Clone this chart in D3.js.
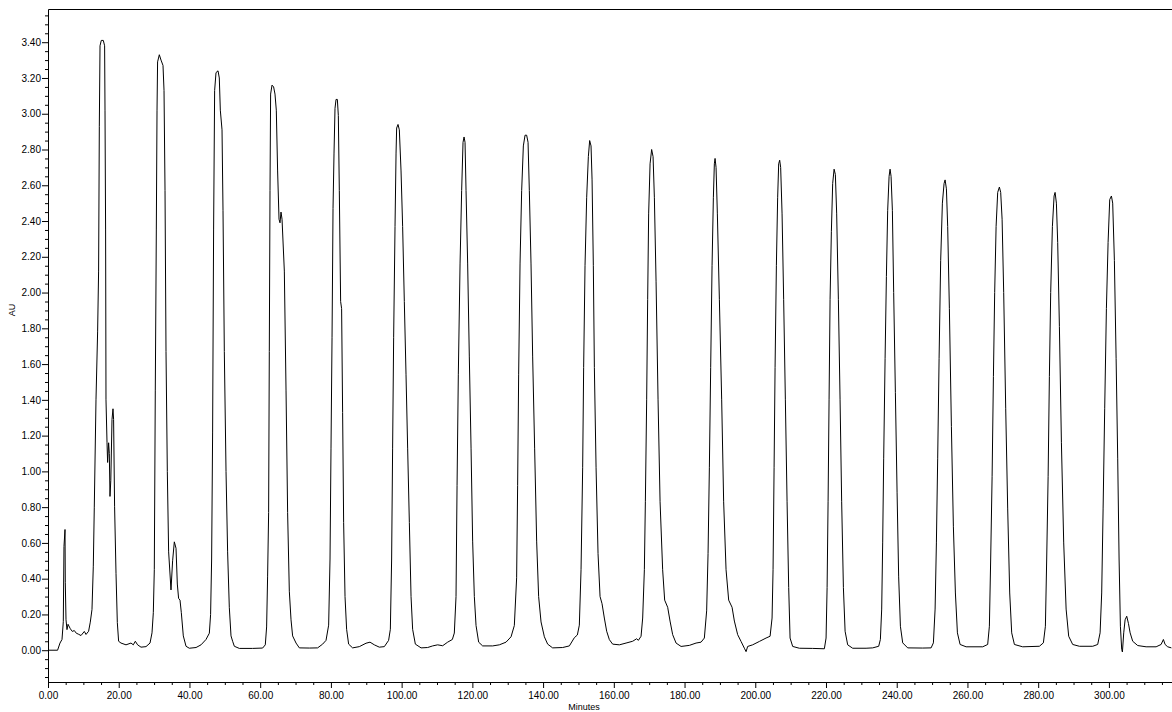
<!DOCTYPE html>
<html>
<head>
<meta charset="utf-8">
<script src="https://cdn.jsdelivr.net/npm/d3@7"></script>
<style>
    html, body { margin: 0; padding: 0; background: #fff; }
    svg { display: block; font-family: "Liberation Sans", Arial, sans-serif; }
</style>
</head>
<body>
<svg id="chart" width="1172" height="712"></svg>
<script>
// --- Data: [minutes, AU] ---

const traceEarly = [
    [0.00,0.000],[2.71,0.000],[3.39,0.040],[3.96,0.060],[4.33,0.160],[4.52,0.580],[4.81,0.675],[4.89,0.380],
    [5.09,0.170],[5.37,0.115],[5.66,0.145],[6.31,0.120],[6.87,0.105],[7.44,0.110],[8.00,0.095],[8.57,0.090],
    [9.33,0.082],[10.27,0.105],[10.75,0.088],[11.48,0.106],[11.96,0.157],[12.44,0.228],[12.81,0.470],[13.09,0.800],
    [13.57,1.400],[14.03,1.780],[14.31,2.120],[14.51,2.930],[14.71,3.380],[15.07,3.410],[15.64,3.410],[16.01,3.380],
    [16.12,3.020],[16.29,2.350],[16.40,1.400],[16.69,1.160],[16.86,1.050],[17.14,1.160],[17.34,1.100],[17.53,0.860],
    [17.76,0.950],[18.10,1.290],[18.38,1.350],[18.55,1.290],[18.83,0.805],[19.23,0.430],[19.60,0.155],[19.97,0.050],
    [20.64,0.040],[22.06,0.030],[23.47,0.040],[24.12,0.030],[24.69,0.050],[25.34,0.030],[26.30,0.017],[27.71,0.020],
    [28.85,0.040],[29.41,0.097],[29.78,0.210],[30.06,0.450],[30.34,1.450],[30.63,2.350],[30.83,3.020],[30.99,3.290],
    [31.48,3.330],[31.96,3.300],[32.52,3.270],[32.81,3.130],[33.09,2.570],[33.37,1.670],[33.74,1.000],[34.11,0.550],
    [34.78,0.337],[35.24,0.500],[35.72,0.606],[36.20,0.570],[36.57,0.370],[36.93,0.290],[37.33,0.280],[37.70,0.210],
    [38.26,0.080],[39.03,0.022],[39.96,0.011],[41.86,0.015],[43.27,0.030],[44.68,0.060],[45.62,0.095],[45.98,0.200],
    [46.27,0.510],[46.55,1.220],[46.83,2.350],[47.12,3.130],[47.51,3.230],[48.08,3.240],[48.44,3.200],[48.73,3.020],
    [49.21,2.910],[49.49,2.460],[49.86,1.670],[50.34,1.000],[50.79,0.550],[51.27,0.240],[51.75,0.080],[52.21,0.050],
    [52.69,0.022],[54.10,0.010],[57.86,0.010],[60.69,0.012],[61.45,0.030],[61.82,0.130],[62.10,0.410],[62.39,0.770],
    [62.58,1.670],[62.78,2.570],[62.95,3.110],[63.35,3.160],[63.80,3.150],[64.19,3.110],[64.56,3.020],[64.93,2.680],
    [65.33,2.410],[65.61,2.390],[65.89,2.450],[66.18,2.410],[66.83,2.120],[67.31,1.450],[67.76,0.770],[68.24,0.330],
    [68.72,0.170],[69.17,0.080],[70.14,0.040],[71.07,0.013],[73.90,0.012],[76.24,0.013]
];

const traceMid = [
    [77.66,0.034],[78.62,0.055],[79.36,0.140],[79.75,0.510],[80.03,1.130],[80.32,1.750],[80.60,2.470],[80.88,2.780],
    [81.16,3.030],[81.45,3.080],[81.82,3.080],[82.10,2.990],[82.38,2.570],[82.75,1.950],[83.03,1.910],[83.31,1.330],
    [83.60,0.715],[83.99,0.300],[84.44,0.117],[85.01,0.034],[86.14,0.013],[88.04,0.020],[89.93,0.039],[91.06,0.045],
    [92.28,0.030],[93.69,0.017],[95.11,0.020],[96.32,0.055],[96.81,0.117],[97.17,0.510],[97.45,1.130],[97.74,1.750],
    [98.13,2.370],[98.42,2.780],[98.59,2.920],[98.98,2.940],[99.35,2.910],[99.83,2.680],[100.28,2.370],[100.76,1.950],
    [101.24,1.540],[101.70,1.130],[102.18,0.715],[102.66,0.300],[103.11,0.117],[103.88,0.034],[105.49,0.013],[107.35,0.015],
    [108.77,0.024],[110.18,0.030],[111.60,0.025],[113.01,0.045],[114.34,0.060],[114.90,0.096],[115.38,0.300],[115.67,0.920],
    [116.03,1.540],[116.52,2.160],[116.97,2.570],[117.36,2.840],[117.65,2.870],[117.93,2.840],[118.21,2.570],[118.67,2.160],
    [119.14,1.640],[119.63,1.130],[120.08,0.610],[120.56,0.300],[121.04,0.138],[121.78,0.045],[122.91,0.024],[125.74,0.024],
    [127.63,0.030],[129.52,0.045],[130.94,0.075],[131.87,0.138],[132.52,0.405],[132.80,0.920],[133.09,1.540],[133.48,2.160],
    [133.94,2.570],[134.42,2.820],[134.90,2.880],[135.35,2.880],[135.75,2.840],[136.11,2.570],[136.59,2.160],[137.05,1.640],
    [137.61,1.130],[138.18,0.610],[138.74,0.300],[139.42,0.158],[140.36,0.075],[141.29,0.034],[142.70,0.013],[145.53,0.015],
    [147.43,0.024],[148.84,0.070],[149.69,0.085],[150.25,0.140],[150.73,0.450],[151.19,1.020],[151.47,1.580],[151.86,2.150],
    [152.32,2.530],[152.80,2.760],[153.17,2.850],[153.56,2.820],[153.85,2.630],[154.21,2.150],[154.50,1.580],[154.98,1.020],
    [155.54,0.540],[156.11,0.300],[156.67,0.260],[157.32,0.180],[157.98,0.106],[158.74,0.059],[159.67,0.034],[161.57,0.030],
    [163.46,0.040],[165.33,0.050],[166.46,0.064],[166.94,0.055],[167.70,0.078],[168.16,0.180],[168.64,0.450],[168.92,0.830],
    [169.29,1.400],[169.57,1.960],[169.85,2.440],[170.25,2.720],[170.70,2.800],[171.10,2.760],[171.47,2.530],[171.95,2.060],
    [172.51,1.400],[173.08,0.830],[173.81,0.450],[174.38,0.280],[175.23,0.240],[175.90,0.163],[176.64,0.087],[177.60,0.040],
    [179.02,0.021],[181.36,0.027],[183.26,0.040],[184.67,0.045],[185.60,0.068],[186.25,0.220],[186.65,0.540],[187.02,1.020],
    [187.39,1.580],[187.78,2.150],[188.15,2.530],[188.43,2.720],[188.63,2.750],[188.91,2.700],[189.28,2.440],[189.85,1.960],
    [190.50,1.400],[191.06,0.830],[191.74,0.450],[192.48,0.280],[193.44,0.240],[194.09,0.163],[195.02,0.087],[195.98,0.049],
    [196.92,0.011],[197.40,-0.008],[197.85,0.021],[199.26,0.030]
];

const traceLate = [
    [201.16,0.049],[203.05,0.068],[204.19,0.078],[204.75,0.180],[205.03,0.450],[205.32,1.020],[205.60,1.580],[205.97,2.150],
    [206.33,2.530],[206.62,2.720],[206.90,2.740],[207.18,2.700],[207.58,2.440],[208.03,1.960],[208.51,1.400],[208.99,0.830],
    [209.45,0.350],[209.84,0.068],[210.58,0.021],[212.47,0.011],[216.23,0.010],[219.54,0.008],[220.02,0.068],[220.31,0.350],
    [220.59,0.830],[220.87,1.400],[221.15,1.960],[221.52,2.340],[221.89,2.610],[222.29,2.690],[222.65,2.660],[223.02,2.440],
    [223.50,1.960],[223.98,1.400],[224.43,0.830],[224.92,0.350],[225.40,0.106],[226.13,0.030],[227.55,0.011],[231.33,0.011],
    [233.20,0.013],[234.90,0.022],[235.38,0.060],[235.75,0.230],[236.03,0.600],[236.31,1.070],[236.71,1.630],[237.08,2.090],
    [237.44,2.460],[237.84,2.650],[238.12,2.690],[238.40,2.650],[238.77,2.460],[239.14,2.000],[239.62,1.440],[240.10,0.880],
    [240.55,0.410],[241.04,0.134],[241.69,0.041],[243.10,0.013],[247.34,0.012],[249.72,0.013],[250.37,0.041],[250.85,0.230],
    [251.22,0.600],[251.58,1.070],[251.98,1.630],[252.43,2.180],[252.91,2.500],[253.39,2.610],[253.68,2.630],[254.05,2.580],
    [254.41,2.370],[254.89,1.910],[255.46,1.250],[256.02,0.690],[256.59,0.320],[257.16,0.097],[257.92,0.032],[259.62,0.019],
    [264.31,0.019],[265.72,0.032],[266.20,0.134],[266.57,0.510],[266.97,0.970],[267.34,1.530],[267.70,2.000],[268.10,2.370],
    [268.55,2.560],[269.03,2.590],[269.40,2.560],[269.80,2.410],[270.25,2.000],[270.82,1.350],[271.38,0.790],[271.95,0.320],
    [272.51,0.097],[273.28,0.032],[275.62,0.019],[280.34,0.022],[281.47,0.041],[282.04,0.134],[282.41,0.510],[282.81,0.970],
    [283.17,1.530],[283.54,2.000],[284.02,2.370],[284.50,2.540],[284.78,2.560],[285.15,2.500],[285.52,2.280],[286.00,1.810],
    [286.57,1.160],[287.22,0.600],[287.90,0.230],[288.63,0.078],[289.76,0.032],[291.66,0.022],[295.42,0.022],[296.83,0.032],
    [297.51,0.097],[297.96,0.320],[298.36,0.790],[298.81,1.350],[299.29,1.910],[299.77,2.280],[300.23,2.520],[300.71,2.540],
    [301.07,2.500],[301.55,2.180],[302.04,1.630],[302.49,1.070],[302.88,0.510],[303.25,0.134],[303.62,0.004],[303.82,-0.010],
    [304.19,0.097],[304.58,0.170],[305.04,0.190],[305.52,0.150],[306.00,0.097],[306.73,0.050],[308.15,0.026],[310.52,0.019],
    [313.35,0.019],[314.76,0.032],[315.41,0.060],[315.89,0.032],[316.63,0.019],[317.67,0.013]
];

// Axis ticks
const xTicks = [0, 20, 40, 60, 80, 100, 120, 140, 160, 180, 200, 220, 240, 260, 280, 300];
const yTicks = [0.0, 0.2, 0.4, 0.6, 0.8, 1.0, 1.2, 1.4, 1.6, 1.8, 2.0, 2.2, 2.4, 2.6, 2.8, 3.0, 3.2, 3.4];
const xLabel = 'Minutes';
const yLabel = 'AU';

const xDomain = [0, 317.7];
const yDomain = [-0.1778, 3.5857];

// --- Drawing ---

const W = 1172, H = 712;
const plot = { left: 48, right: 1171.5, top: 9, bottom: 682 };
const FONT = '"Liberation Sans", Arial, sans-serif';

const svg = d3.select('#chart');

const x = d3.scaleLinear().domain(xDomain).range([plot.left, plot.right]);
const y = d3.scaleLinear().domain(yDomain).range([plot.bottom, plot.top]);

// minor ticks every 5 min / 0.05 AU (skipping the majors)
const xMinor = d3.range(5, 316, 5).filter(v => v % 20 !== 0);
const yMinor = d3.range(-15, 360, 5).map(v => v / 100).filter(v => Math.round(v * 100) % 20 !== 0);

// top frame line
svg.append('line')
    .attr('x1', plot.left + 0.5).attr('x2', W)
    .attr('y1', plot.top + 0.5).attr('y2', plot.top + 0.5)
    .attr('stroke', '#000').attr('stroke-width', 1);

// Y axis
const gy = svg.append('g').attr('transform', `translate(${plot.left},0)`);
gy.call(d3.axisLeft(y).tickValues(yTicks).tickFormat(d3.format('.2f'))
    .tickSize(6).tickSizeOuter(0).tickPadding(1));
gy.append('g').call(d3.axisLeft(y).tickValues(yMinor).tickFormat('').tickSize(3).tickSizeOuter(0))
    .select('.domain').remove();

// X axis
const gx = svg.append('g').attr('transform', `translate(0,${plot.bottom})`);
gx.call(d3.axisBottom(x).tickValues(xTicks).tickFormat(d3.format('.2f'))
    .tickSize(6).tickSizeOuter(0).tickPadding(4));
gx.append('g').call(d3.axisBottom(x).tickValues(xMinor).tickFormat('').tickSize(3).tickSizeOuter(0))
    .select('.domain').remove();

svg.selectAll('.tick line').attr('stroke', '#000');
svg.selectAll('.domain').attr('stroke', '#000');
svg.selectAll('.tick text')
    .attr('fill', '#000')
    .style('font-family', FONT)
    .style('font-size', '10px');

// axis titles
svg.append('text')
    .attr('x', 584).attr('y', 710)
    .attr('text-anchor', 'middle')
    .style('font-family', FONT).style('font-size', '9px')
    .attr('fill', '#000')
    .text(xLabel);

svg.append('text')
    .attr('transform', 'translate(15,310) rotate(-90)')
    .attr('text-anchor', 'middle')
    .style('font-family', FONT).style('font-size', '9px')
    .attr('fill', '#000')
    .text(yLabel);

// chromatogram trace
const trace = traceEarly.concat(traceMid, traceLate);
const line = d3.line().x(d => x(d[0])).y(d => y(d[1]));

svg.append('path')
    .datum(trace)
    .attr('fill', 'none')
    .attr('stroke', '#000')
    .attr('stroke-width', 1)
    .attr('stroke-linejoin', 'round')
    .attr('d', line);
</script>
</body>
</html>
